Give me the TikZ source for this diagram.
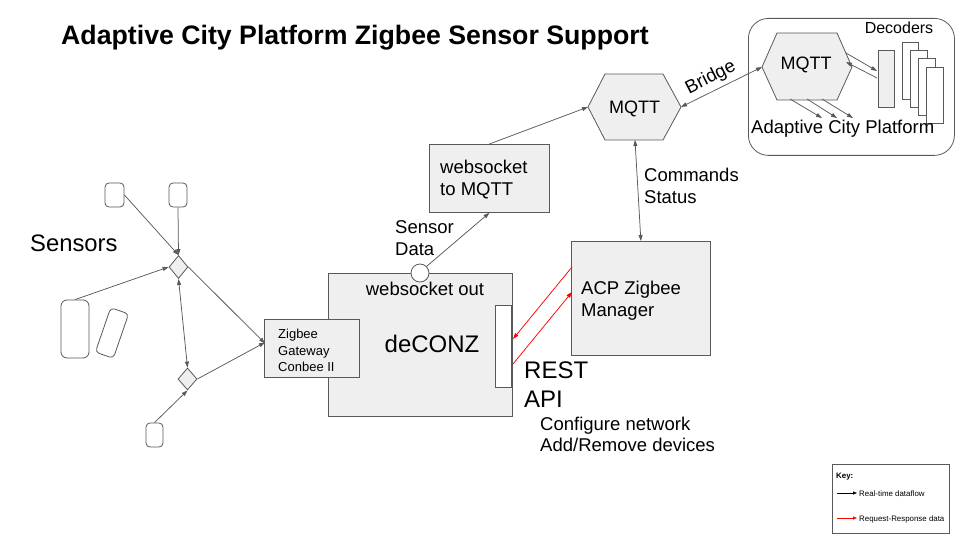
\documentclass[tikz,border=0pt]{standalone}
\usepackage{fontspec}
\setmainfont{Liberation Sans}
\usetikzlibrary{shapes.geometric,arrows.meta,calc}
\definecolor{lg}{HTML}{595959}
\definecolor{fillg}{HTML}{EFEFEF}
\tikzset{
  box/.style={draw=lg, fill=fillg, line width=0.8pt, inner sep=0pt},
  wbox/.style={draw=lg, fill=white, line width=0.8pt, inner sep=0pt},
  sensorbox/.style={draw=lg, fill=white, line width=0.8pt, inner sep=0pt, rounded corners=4pt},
  dia/.style={diamond, draw=lg, fill=fillg, line width=0.8pt, inner sep=0pt},
  conn/.style={draw=lg, line width=0.75pt, -{Triangle[length=6pt,width=4pt]}},
  bconn/.style={draw=lg, line width=0.75pt, {Triangle[length=6pt,width=4pt]}-{Triangle[length=6pt,width=4pt]}},
  reqarrow/.style={draw=red, line width=0.75pt, -{Triangle[length=6pt,width=4pt]}},
  tx/.style={inner sep=0pt, anchor=base west, font=\fontsize{18.5}{21}\selectfont},
  txbig/.style={inner sep=0pt, anchor=base west, font=\fontsize{24}{28}\selectfont},
  txsmall/.style={inner sep=0pt, anchor=base west, font=\fontsize{13}{16}\selectfont},
  txkey/.style={inner sep=0pt, anchor=base west, font=\fontsize{7.9}{9}\selectfont},
}
\begin{document}
\begin{tikzpicture}[x=1pt,y=-1pt]
\useasboundingbox (0,0) rectangle (960,540);

% Title
\node[inner sep=0pt, anchor=base west, font=\fontsize{26.7}{30}\selectfont\bfseries] (title) at (61,45) {Adaptive City Platform Zigbee Sensor Support};

% ---------- Adaptive City Platform container ----------
\node[draw=lg, line width=0.8pt, rounded corners=20pt, anchor=north west, minimum width=206, minimum height=137, inner sep=0pt] (acpbox) at (748,18) {};
% inner MQTT hexagon
\coordinate (imW) at (762,67);
\coordinate (imNW) at (777,33);
\coordinate (imNE) at (837,33);
\coordinate (imE) at (852,67);
\coordinate (imSE) at (837,100);
\coordinate (imSW) at (777,100);
\draw[draw=lg, fill=fillg, line width=0.8pt] (imW) -- (imNW) -- (imNE) -- (imE) -- (imSE) -- (imSW) -- cycle;
\node[inner sep=0pt, anchor=base, font=\fontsize{18}{21}\selectfont] (imqtt) at (806,70) {MQTT};
% decoders
\node[box, anchor=north west, minimum width=16, minimum height=57] (dbar) at (878,50) {};
\node[wbox, anchor=north west, minimum width=16, minimum height=57] (dec1) at (902,42) {};
\node[wbox, anchor=north west, minimum width=17, minimum height=57] (dec2) at (910,50) {};
\node[wbox, anchor=north west, minimum width=17, minimum height=57] (dec3) at (918,58) {};
\node[wbox, anchor=north west, minimum width=17, minimum height=56] (dec4) at (926,67) {};
\node[inner sep=0pt, anchor=base, font=\fontsize{16}{19}\selectfont] (declab) at (899,34) {Decoders};
\coordinate (imA1) at (846,53);
\coordinate (dbA1) at (877,71);
\coordinate (dbA2) at (877,78);
\coordinate (imA2) at (846,62);
\draw[conn] (imA1) -- (dbA1);
\draw[conn] (dbA2) -- (imA2);
\coordinate (ob1s) at (790,99); \coordinate (ob1e) at (822,118);
\coordinate (ob2s) at (807,99); \coordinate (ob2e) at (837,118);
\coordinate (ob3s) at (822,99); \coordinate (ob3e) at (853,118);
\draw[conn] (ob1s) -- (ob1e);
\draw[conn] (ob2s) -- (ob2e);
\draw[conn] (ob3s) -- (ob3e);
\node[inner sep=0pt, anchor=base west, font=\fontsize{18.5}{21}\selectfont] (acplab) at (751,134) {Adaptive City Platform};

% ---------- MQTT hexagon ----------
\coordinate (mqW) at (588,107);
\coordinate (mqNW) at (605,74);
\coordinate (mqNE) at (663,74);
\coordinate (mqE) at (681,107);
\coordinate (mqSE) at (663,140);
\coordinate (mqSW) at (605,140);
\coordinate (mqS) at (635,140);
\draw[draw=lg, fill=fillg, line width=0.8pt] (mqW) -- (mqNW) -- (mqNE) -- (mqE) -- (mqSE) -- (mqSW) -- cycle;
\node[inner sep=0pt, anchor=base, font=\fontsize{18}{21}\selectfont] (mqtt) at (634.5,113.5) {MQTT};

% Bridge
\draw[bconn] (mqE) -- (imW);
\node[inner sep=0pt, anchor=base, rotate=27, font=\fontsize{18.5}{21}\selectfont] (bridge) at (713,82) {Bridge};

% ---------- websocket to MQTT ----------
\node[box, anchor=north west, minimum width=120, minimum height=68] (ws) at (429,144) {};
\node[tx] (wsA) at (440,174) {websocket};
\node[tx] (wsB) at (440,195) {to MQTT};
\draw[conn] (ws.north) -- (mqW);

% ---------- ACP Zigbee Manager ----------
\node[box, anchor=north west, minimum width=139, minimum height=114] (acp) at (571,241) {};
\node[tx] (acpA) at (581,294) {ACP Zigbee};
\node[tx] (acpB) at (581,316) {Manager};
\draw[bconn] (mqS) -- (acp.north);
\node[tx] (cmdA) at (644,182) {Commands};
\node[tx] (cmdB) at (644,203) {Status};

% ---------- deCONZ ----------
\node[box, anchor=north west, minimum width=184, minimum height=143] (dc) at (328,273) {};
\node[inner sep=0pt, anchor=base, font=\fontsize{18.5}{21}\selectfont] (wsout) at (425,295) {websocket out};
\node[inner sep=0pt, anchor=base, font=\fontsize{24}{28}\selectfont] (dclab) at (432,352) {deCONZ};
\node[wbox, anchor=north east, minimum width=16, minimum height=82] (rest) at (512,305) {};
\node[circle, draw=lg, fill=white, line width=0.8pt, minimum size=18pt, inner sep=0pt] (wso) at (420,273) {};
\draw[conn] (wso.45) -- (ws.south);
\node[tx] (sdA) at (395,233) {Sensor};
\node[tx] (sdB) at (395,255) {Data};
\node[txbig] (restA) at (524,378) {REST};
\node[txbig] (restB) at (524,407) {API};
\node[tx] (cfgA) at (540,430) {Configure network};
\node[tx] (cfgB) at (540,451) {Add/Remove devices};

% red request/response arrows
\draw[reqarrow] ($(acp.north west)+(1,26)$) -- ($(rest.north east)+(1,34)$);
\draw[reqarrow] ($(rest.north east)+(1,59)$) -- ($(acp.north west)+(1,51)$);

% ---------- Zigbee gateway ----------
\node[box, anchor=north west, minimum width=95, minimum height=58] (zb) at (264,319) {};
\node[txsmall] (zbA) at (278,338) {Zigbee};
\node[txsmall] (zbB) at (278,355) {Gateway};
\node[txsmall] (zbC) at (278,371) {Conbee II};

% ---------- Sensors ----------
\node[inner sep=0pt, anchor=base west, font=\fontsize{23.8}{27}\selectfont] (senslab) at (30,251) {Sensors};
\node[sensorbox, minimum width=19, minimum height=24] (s1) at (114.5,195) {};
\node[sensorbox, minimum width=18, minimum height=24] (s2) at (178,195) {};
\node[sensorbox, rounded corners=6pt, minimum width=28, minimum height=58] (s3) at (75,329) {};
\node[sensorbox, minimum width=19, minimum height=47, rotate=-19] (s4) at (112,333) {};
\node[sensorbox, minimum width=17, minimum height=24] (s5) at (154.5,435) {};
\node[dia, minimum width=19, minimum height=23] (d1) at (178.5,267) {};
\node[dia, minimum width=19, minimum height=22] (d2) at (187.5,379) {};

\draw[conn] (s1.east) -- (d1.north);
\draw[conn] (s2.south) -- (d1.north);
\draw[conn] (s3.north) -- (d1.west);
\draw[bconn] (d1.south) -- (d2.north);
\draw[conn] (d1.east) -- ($(zb.west)+(1,-5)$);
\draw[conn] (d2.east) -- ($(zb.west)+(1,-6)$);
\draw[conn] (s5.north) -- (d2.south);

% ---------- Key ----------
\node[draw=lg, line width=0.8pt, anchor=north west, minimum width=117, minimum height=69, inner sep=0pt] (key) at (832,464) {};
\node[inner sep=0pt, anchor=base west, font=\fontsize{7.9}{9}\selectfont\bfseries] (keylab) at (836,478) {Key:};
\coordinate (k1a) at (837,493); \coordinate (k1b) at (857,493);
\coordinate (k2a) at (837,518); \coordinate (k2b) at (857,518);
\draw[black, line width=0.75pt, -{Triangle[length=4pt,width=3pt]}] (k1a) -- (k1b);
\draw[red, line width=0.75pt, -{Triangle[length=4pt,width=3pt]}] (k2a) -- (k2b);
\node[txkey] (k1t) at (859,496) {Real-time dataflow};
\node[txkey] (k2t) at (859,521) {Request-Response data};
\end{tikzpicture}
\end{document}
